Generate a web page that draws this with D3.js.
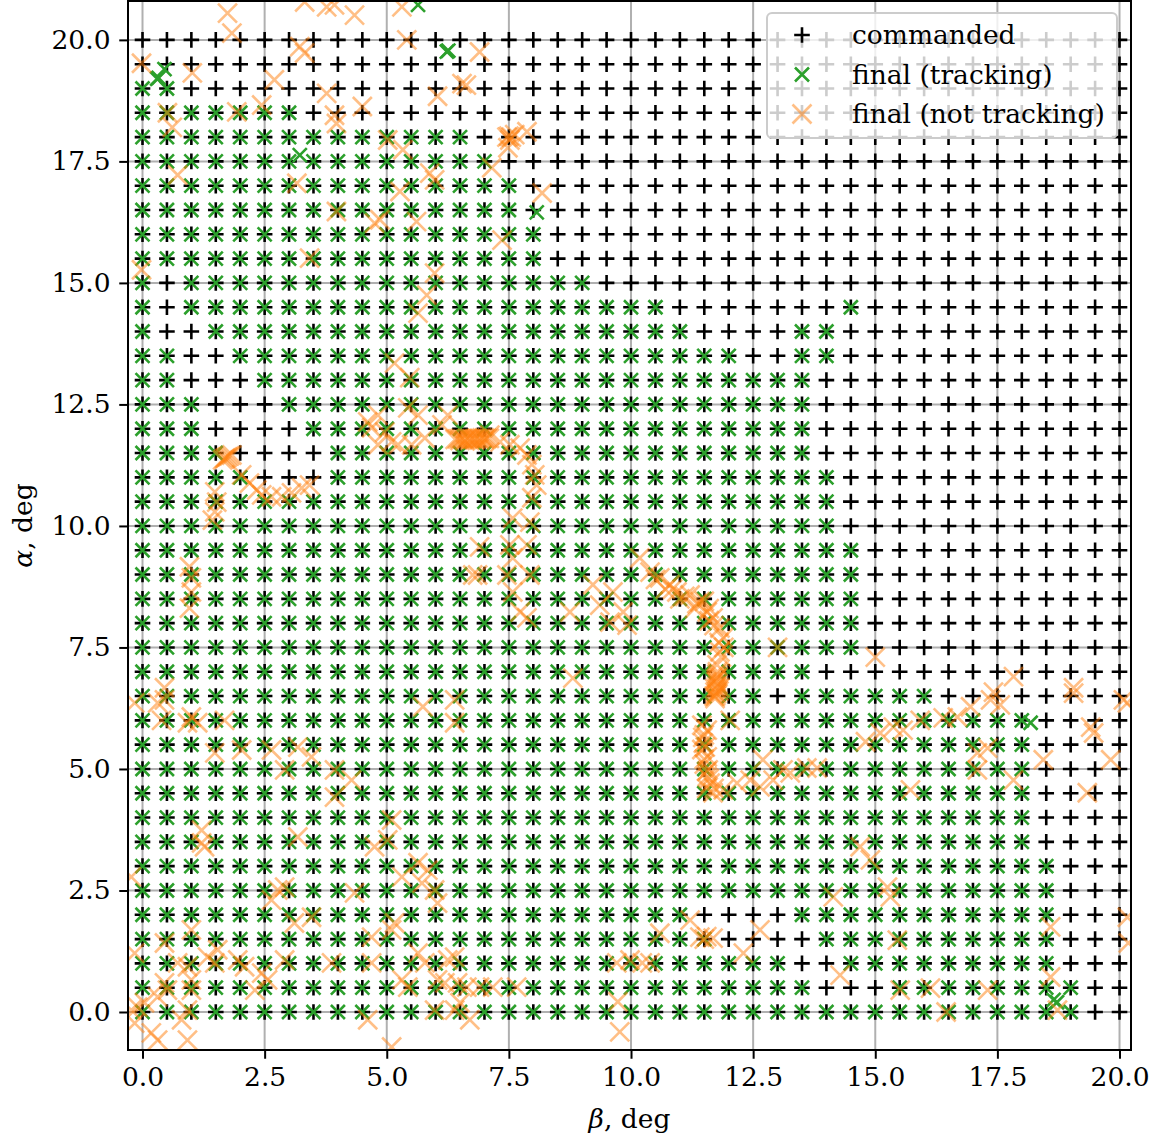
<!DOCTYPE html>
<html>
<head>
<meta charset="utf-8">
<script src="https://cdn.jsdelivr.net/npm/d3@7"></script>
<style>
  body { margin: 0; background: #fff; }
  svg { font-family: "DejaVu Serif", serif; }
</style>
</head>
<body>
<svg id="svg" width="1153" height="1137"></svg>
<script>
// commanded grid (deg)
const betaCmd = [0, 0.5, 1, 1.5, 2, 2.5, 3, 3.5, 4, 4.5, 5, 5.5, 6, 6.5, 7, 7.5, 8, 8.5, 9, 9.5, 10,
  10.5, 11, 11.5, 12, 12.5, 13, 13.5, 14, 14.5, 15, 15.5, 16, 16.5, 17, 17.5, 18, 18.5, 19, 19.5, 20];
const alphaCmd = [0, 0.5, 1, 1.5, 2, 2.5, 3, 3.5, 4, 4.5, 5, 5.5, 6, 6.5, 7, 7.5, 8, 8.5, 9, 9.5, 10,
  10.5, 11, 11.5, 12, 12.5, 13, 13.5, 14, 14.5, 15, 15.5, 16, 16.5, 17, 17.5, 18, 18.5, 19, 19.5, 20];

const xTicks = [0, 2.5, 5, 7.5, 10, 12.5, 15, 17.5, 20];
const yTicks = [0, 2.5, 5, 7.5, 10, 12.5, 15, 17.5, 20];

// tracked beta index ranges for each alpha row (same order as alphaCmd)
const trackedRanges = [
  [[0, 38]],                    // 0
  [[0, 27], [31, 38]],          // 0.5
  [[0, 26], [29, 37]],          // 1
  [[0, 23], [28, 37]],          // 1.5
  [[0, 22], [27, 37]],          // 2
  [[0, 37]],                    // 2.5
  [[0, 37]],                    // 3
  [[0, 36]],                    // 3.5
  [[0, 36]],                    // 4
  [[0, 36]],                    // 4.5
  [[0, 36]],                    // 5
  [[0, 36]],                    // 5.5
  [[0, 36]],                    // 6
  [[0, 25], [27, 32]],          // 6.5
  [[0, 27]],                    // 7
  [[0, 29]],                    // 7.5
  [[0, 29]],                    // 8
  [[0, 29]],                    // 8.5
  [[0, 29]],                    // 9
  [[0, 29]],                    // 9.5
  [[0, 28]],                    // 10
  [[0, 28]],                    // 10.5
  [[0, 4], [8, 28]],            // 11
  [[0, 3], [8, 27]],            // 11.5
  [[0, 2], [7, 27]],            // 12
  [[0, 2], [6, 27]],            // 12.5
  [[0, 1], [5, 27]],            // 13
  [[0, 1], [4, 24], [27, 28]],  // 13.5
  [[0, 0], [3, 22], [27, 28]],  // 14
  [[0, 0], [2, 21], [29, 29]],  // 14.5
  [[0, 0], [2, 18]],            // 15
  [[0, 16]],                    // 15.5
  [[0, 16]],                    // 16
  [[0, 15]],                    // 16.5
  [[0, 15]],                    // 17
  [[0, 14]],                    // 17.5
  [[0, 13]],                    // 18
  [[0, 6]],                     // 18.5
  [[0, 1]],                     // 19
  [],                           // 19.5
  []                            // 20
];

// tracking finals that ended off the grid [beta, alpha]
const greenExtra = [[0.3, 19.2], [0.33, 19.22], [0.45, 19.4], [6.23, 19.76], [6.26, 19.78], [5.64, 20.72],
  [3.22, 17.63], [8.07, 16.45], [18.18, 5.95], [18.65, 0.25], [18.72, 0.2]];

// final positions of the runs that lost tracking [beta, alpha]
const notTracking = [
  [1.74, 20.55], [1.83, 20.14], [3.32, 20.78], [3.77, 20.68], [3.93, 20.72], [4.34, 20.51], [5.31, 20.68], [5.41, 20.0],
  [3.22, 19.86], [3.32, 19.73], [-0.02, 19.52], [1.02, 19.32], [2.7, 19.18], [3.77, 18.9], [4.5, 18.63], [6.04, 18.84], [6.54, 19.1],
  [0.51, 18.5], [0.61, 18.2], [1.93, 18.52], [2.44, 18.66], [3.93, 18.45], [3.97, 18.28], [5.02, 17.94], [5.33, 17.74],
  [5.88, 17.26], [5.98, 17.12], [0.72, 17.22], [3.16, 17.05], [5.27, 16.88], [3.97, 16.47], [4.75, 16.23], [4.86, 16.3], [5.61, 16.26],
  [3.42, 15.51], [-0.02, 15.27], [5.98, 15.2], [5.82, 14.75], [5.64, 14.38],
  [6.9, 19.75], [6.63, 19.07], [7.46, 18.0], [7.52, 17.94], [7.62, 18.05], [7.87, 18.11], [7.48, 17.78], [7.5, 18.02],
  [7.55, 18.0], [7.15, 17.37],
  [8.18, 16.85], [7.36, 15.88],
  [5.16, 13.35], [5.47, 13.05], [4.61, 12.14], [4.82, 12.28], [4.96, 11.93], [5.1, 11.73], [5.43, 12.43], [5.64, 12.28],
  [5.51, 11.67], [5.78, 11.81], [6.13, 12.08], [6.25, 12.28], [5.23, 11.67], [4.82, 11.67], [4.69, 12.02],
  [6.4, 11.78], [6.45, 11.79], [6.5, 11.8], [6.55, 11.79], [6.6, 11.78], [6.65, 11.8], [6.7, 11.8], [6.75, 11.79],
  [6.8, 11.79], [6.85, 11.8], [6.9, 11.8], [6.95, 11.81], [7.0, 11.81], [7.05, 11.8], [7.1, 11.8],
  [6.5, 11.76], [6.6, 11.75], [6.7, 11.76], [6.8, 11.77], [6.9, 11.77], [7.0, 11.78],
  [1.64, 11.36], [1.74, 11.42], [1.83, 11.46], [1.7, 11.4], [1.68, 11.38], [1.78, 11.44],
  [2.03, 11.05], [2.19, 10.88], [2.34, 10.74], [2.44, 10.64],
  [2.64, 10.6], [2.85, 10.6], [3.05, 10.68], [3.26, 10.78], [3.42, 10.84],
  [1.48, 10.7], [1.52, 10.49], [1.48, 10.29], [1.43, 10.12],
  [0.96, 9.16], [1.0, 8.93], [1.0, 8.64], [0.96, 8.31], [0.45, 6.67],
  [7.11, 11.87], [7.32, 11.73], [7.52, 11.67], [7.73, 11.6], [7.87, 11.46], [7.97, 11.26], [8.03, 11.05], [8.07, 10.84], [7.97, 10.58],
  [7.58, 10.16], [7.93, 10.08], [7.87, 9.61], [7.52, 9.61], [7.58, 9.34], [6.9, 9.57], [6.86, 8.99], [7.46, 8.99], [7.93, 8.99],
  [7.58, 8.64], [7.73, 8.23], [7.87, 8.11], [6.76, 8.99],
  [8.75, 8.23], [9.22, 8.79], [9.36, 8.37], [9.63, 8.64], [9.84, 8.23], [9.57, 8.02], [9.92, 7.96],
  [10.18, 9.34], [10.39, 9.05], [10.59, 8.93], [10.8, 8.79], [10.94, 8.64], [11.21, 8.58], [11.41, 8.44], [11.56, 8.23],
  [11.68, 8.11], [11.82, 7.9], [11.89, 7.7], [11.82, 7.41], [11.76, 7.14], [11.76, 6.87], [11.82, 6.67],
  [10.5, 8.9], [10.7, 8.7], [11.0, 8.5], [11.3, 8.3], [11.5, 8.45], [11.7, 7.95], [11.6, 8.3], [11.9, 7.5],
  [10.85, 8.7], [11.1, 8.55], [11.35, 8.4], [11.6, 8.05], [11.8, 7.6], [11.85, 7.3],
  [13.0, 7.5], [8.81, 6.87],
  [11.72, 6.45], [11.75, 6.55], [11.72, 6.65], [11.78, 6.75], [11.74, 6.85], [11.76, 6.95], [11.8, 6.6], [11.7, 6.5],
  [11.73, 6.5], [11.76, 6.7], [11.74, 6.8], [11.78, 6.9], [11.72, 6.58], [11.77, 7.0],
  [15.0, 7.3], [17.83, 6.9], [19.06, 6.67], [17.42, 6.58],
  [-0.16, 6.36], [0.31, 6.36], [0.45, 6.42], [0.39, 6.0], [0.92, 5.95], [1.0, 6.07], [1.13, 5.95], [1.68, 6.0],
  [1.48, 5.33], [2.03, 5.39], [2.64, 5.39], [3.18, 5.45], [3.46, 5.25], [2.91, 4.98], [3.93, 4.98], [4.28, 4.77], [3.93, 4.42],
  [6.39, 6.42], [6.39, 5.95], [5.74, 6.28],
  [1.21, 3.74], [1.21, 3.48], [1.27, 3.4], [3.18, 3.6], [4.75, 3.4], [5.02, 3.54], [5.1, 3.95],
  [5.64, 3.07], [5.84, 2.92], [5.72, 2.65], [5.98, 2.51], [6.04, 2.24], [-0.23, 2.78],
  [2.77, 2.51], [2.64, 2.3], [2.91, 2.57], [3.11, 1.83], [3.46, 1.95], [4.34, 2.45], [5.1, 1.69], [5.16, 1.83], [4.69, 1.54], [5.31, 2.78],
  [-0.16, 1.21], [0.45, 1.42], [0.72, 1.01], [1.0, 1.69], [0.92, 0.93], [1.33, 1.13], [1.54, 1.28], [1.48, 1.01], [1.95, 1.07],
  [2.09, 0.93], [2.44, 0.8], [2.56, 0.66], [2.3, 0.45], [2.91, 1.07], [3.87, 1.01], [4.69, 1.01],
  [5.64, 1.21], [5.78, 1.01], [6.25, 1.07], [6.39, 1.13], [6.19, 0.6], [6.45, 0.6], [5.31, 0.66], [5.43, 0.51], [6.04, 0.66],
  [5.98, 0.04], [6.39, 0.04],
  [-0.23, 0.04], [-0.1, 0.1], [0.04, 0.19], [-0.16, -0.23], [0.18, -0.43], [0.31, -0.58], [0.92, -0.58], [0.51, 0.45], [0.45, 0.6],
  [1.0, 0.66], [1.0, 0.45], [0.92, 0.04], [0.8, -0.16], [0.31, 0.31],
  [4.61, -0.16], [5.1, -0.72],
  [12.03, 6.0], [11.56, 5.8], [11.48, 5.53], [11.56, 5.25], [11.58, 4.98], [11.62, 4.71], [11.68, 4.51], [11.89, 4.57], [11.56, 4.84],
  [11.45, 5.9], [11.5, 5.7], [11.45, 5.4], [11.5, 5.1], [11.55, 4.6], [11.47, 5.65], [11.52, 5.45], [11.5, 5.2], [11.55, 4.95],
  [11.6, 4.8], [11.7, 4.6],
  [12.17, 4.71], [12.44, 4.77], [12.7, 5.19], [12.91, 4.77], [13.11, 4.98], [12.64, 4.63],
  [11.21, 1.89], [11.41, 1.54], [11.68, 1.52], [10.59, 1.62], [12.64, 1.69], [12.3, 1.21], [11.5, 1.5], [11.55, 1.55],
  [9.71, 1.01], [9.98, 1.07], [10.23, 1.01], [10.39, 1.01],
  [6.64, 0.51], [6.9, 0.51], [7.17, 0.51], [7.66, 0.51], [6.5, 0.19], [6.7, -0.16], [9.73, 0.21], [9.77, -0.41],
  [16.95, 6.28], [17.36, 6.42], [17.56, 6.32], [19.06, 6.56], [20.08, 6.42], [20.16, 6.36],
  [15.92, 6.0], [16.39, 6.05], [16.68, 6.07], [15.57, 5.8], [15.37, 5.86], [15.1, 5.74], [14.8, 5.56], [17.09, 5.33], [17.3, 5.43],
  [19.41, 5.86], [19.47, 5.74], [18.44, 5.19], [19.82, 5.19], [17.83, 4.77], [17.09, 4.98],
  [13.6, 5.02], [13.81, 5.02], [13.26, 4.92], [15.72, 4.57], [19.34, 4.51], [14.69, 3.4], [14.9, 3.13], [14.14, 2.37],
  [15.25, 2.57], [15.31, 2.37],
  [18.59, 1.75], [20.16, 1.95], [20.18, 1.42], [15.45, 1.48], [14.28, 0.76], [15.51, 0.45], [16.13, 0.49], [17.3, 0.45],
  [18.59, 0.72], [18.73, 0.04], [16.45, 0.0]
];

const legendLabels = ["commanded", "final (tracking)", "final (not tracking)"];

const svg = d3.select("#svg");
const W = 1153, H = 1137;
const plot = { left: 128, right: 1131, top: 1, bottom: 1050 };
const fontSize = 26.5;

const x = d3.scaleLinear().domain([-0.297, 20.235]).range([plot.left, plot.right]);
const y = d3.scaleLinear().domain([-0.782, 20.8]).range([plot.bottom, plot.top]);

const plusPath = s => `M${-s},0H${s}M0,${-s}V${s}`;
const crossPath = s => `M${-s},${-s}L${s},${s}M${-s},${s}L${s},${-s}`;
const plusSize = 7.8, greenSize = 7, orangeSize = 9.5, markStroke = 2.6;

svg.append("rect").attr("width", W).attr("height", H).attr("fill", "#fff");

svg.append("clipPath").attr("id", "clip")
  .append("rect")
  .attr("x", plot.left).attr("y", plot.top)
  .attr("width", plot.right - plot.left).attr("height", plot.bottom - plot.top);

// grid
const grid = svg.append("g").attr("stroke", "#b0b0b0").attr("stroke-width", 2);
grid.selectAll(".gx").data(xTicks).join("line")
  .attr("x1", d => x(d)).attr("x2", d => x(d))
  .attr("y1", plot.top).attr("y2", plot.bottom);
grid.selectAll(".gy").data(yTicks).join("line")
  .attr("y1", d => y(d)).attr("y2", d => y(d))
  .attr("x1", plot.left).attr("x2", plot.right);

const marks = svg.append("g").attr("clip-path", "url(#clip)");

// commanded
const commanded = d3.cross(alphaCmd, betaCmd).map(([a, b]) => [b, a]);
marks.append("g").selectAll("path").data(commanded).join("path")
  .attr("transform", d => `translate(${x(d[0])},${y(d[1])})`)
  .attr("d", plusPath(plusSize))
  .attr("fill", "none").attr("stroke", "#000").attr("stroke-width", markStroke);

// tracking finals
const tracked = alphaCmd.flatMap((a, i) =>
  trackedRanges[i].flatMap(([s, e]) => betaCmd.slice(s, e + 1).map(b => [b, a])))
  .concat(greenExtra);
marks.append("g").selectAll("path").data(tracked).join("path")
  .attr("transform", d => `translate(${x(d[0])},${y(d[1])})`)
  .attr("d", crossPath(greenSize))
  .attr("fill", "none").attr("stroke", "#2ca02c").attr("stroke-width", markStroke);

// not tracking finals
marks.append("g").selectAll("path").data(notTracking).join("path")
  .attr("transform", d => `translate(${x(d[0])},${y(d[1])})`)
  .attr("d", crossPath(orangeSize))
  .attr("fill", "none").attr("stroke", "#ff7f0e").attr("stroke-opacity", 0.5).attr("stroke-width", markStroke);

// axes
const fmt = d3.format(".1f");
const xAxis = svg.append("g")
  .attr("transform", `translate(0,${plot.bottom})`)
  .call(d3.axisBottom(x).tickValues(xTicks).tickFormat(fmt).tickSize(8.75).tickPadding(8));
const yAxis = svg.append("g")
  .attr("transform", `translate(${plot.left},0)`)
  .call(d3.axisLeft(y).tickValues(yTicks).tickFormat(fmt).tickSize(8.75).tickPadding(8.75));
[xAxis, yAxis].forEach(ax => {
  ax.select(".domain").remove();
  ax.selectAll(".tick line").attr("stroke", "#000").attr("stroke-width", 2);
  ax.selectAll(".tick text").attr("fill", "#000")
    .style("font-family", "'DejaVu Serif', serif").style("font-size", fontSize + "px");
});

svg.append("rect")
  .attr("x", plot.left).attr("y", plot.top)
  .attr("width", plot.right - plot.left).attr("height", plot.bottom - plot.top)
  .attr("fill", "none").attr("stroke", "#000").attr("stroke-width", 2);

// axis labels
const xLab = svg.append("text")
  .attr("x", (plot.left + plot.right) / 2).attr("y", 1128)
  .attr("text-anchor", "middle").style("font-size", fontSize + "px");
xLab.append("tspan").attr("font-style", "italic").text("β");
xLab.append("tspan").text(", deg");

const yLab = svg.append("text")
  .attr("transform", `translate(32,${(plot.top + plot.bottom) / 2}) rotate(-90)`)
  .attr("text-anchor", "middle").style("font-size", fontSize + "px");
yLab.append("tspan").attr("font-style", "italic").text("α");
yLab.append("tspan").text(", deg");

// legend
const lg = svg.append("g");
lg.append("rect")
  .attr("x", 767).attr("y", 13).attr("width", 350).attr("height", 125).attr("rx", 5)
  .attr("fill", "#fff").attr("fill-opacity", 0.8)
  .attr("stroke", "#cccccc").attr("stroke-width", 2);
const legendStyles = [
  { d: plusPath(plusSize), color: "#000", op: 1 },
  { d: crossPath(greenSize), color: "#2ca02c", op: 1 },
  { d: crossPath(orangeSize), color: "#ff7f0e", op: 0.5 }
];
legendLabels.forEach((lab, i) => {
  const cy = 35 + i * 39.5;
  lg.append("path")
    .attr("transform", `translate(802,${cy})`)
    .attr("d", legendStyles[i].d)
    .attr("fill", "none").attr("stroke", legendStyles[i].color)
    .attr("stroke-opacity", legendStyles[i].op).attr("stroke-width", markStroke);
  lg.append("text")
    .attr("x", 852).attr("y", cy + 9)
    .style("font-size", fontSize + "px").text(lab);
});
</script>
</body>
</html>
